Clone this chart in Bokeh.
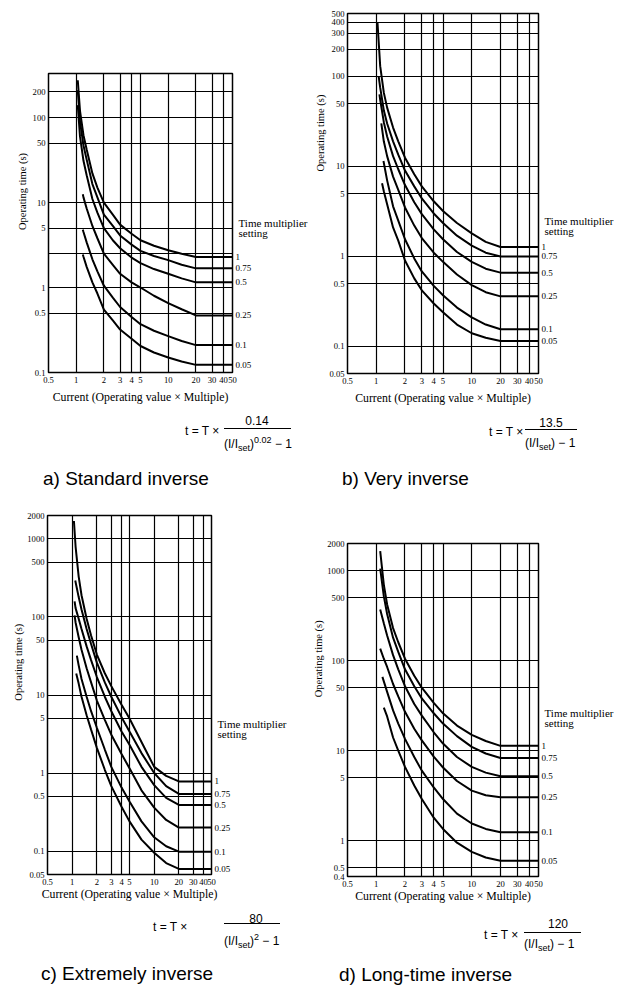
import math
from bokeh.plotting import figure
from bokeh.models import FixedTicker, LogAxis, CustomJSTickFormatter, Div
from bokeh.layouts import column, row
from bokeh.embed import file_html
from bokeh.resources import INLINE

SERIF = "Liberation Serif"
SANS = "Liberation Sans"

X_TICKS = [0.5, 1, 2, 3, 4, 5, 10, 20, 30, 40, 50]
SETTING_LABELS = ["1", "0.75", "0.5", "0.25", "0.1", "0.05"]

# ---------------- a) Standard inverse ----------------
A_Y_TICKS = [0.1, 0.5, 1, 5, 10, 50, 100, 200]
A_Y_GRID_EXTRA = [2.5]
A_X_UP = [1.04, 1.1, 1.2, 1.3, 1.5, 1.7, 2, 2.5, 3, 4, 5, 7, 10, 14, 20, 50]
A_T100 = [275, 120, 62, 42, 22, 15, 10, 7.2, 5.5, 4.3, 3.6, 3.1, 2.75, 2.5, 2.29, 2.29]
A_T075 = [210, 90, 47, 32, 16.5, 11.5, 7.2, 5.3, 4.1, 3.2, 2.7, 2.35, 2.1, 1.85, 1.68, 1.68]
A_T050 = [140, 60, 31, 21, 11, 7.6, 5.0, 3.6, 2.9, 2.25, 1.94, 1.65, 1.45, 1.28, 1.15, 1.15]
A_X_LO = [1.18, 1.2, 1.3, 1.5, 1.7, 2, 2.5, 3, 4, 5, 7, 10, 14, 20, 50]
A_T025 = [12.5, 11.5, 8.5, 5.3, 3.8, 2.5, 1.85, 1.45, 1.15, 1.0, 0.8, 0.655, 0.555, 0.47, 0.47]
A_T010 = [4.8, 4.5, 3.4, 2.15, 1.55, 1.05, 0.76, 0.59, 0.45, 0.37, 0.31, 0.268, 0.235, 0.21, 0.21]
A_T005 = [2.45, 2.3, 1.75, 1.15, 0.85, 0.55, 0.41, 0.32, 0.25, 0.205, 0.172, 0.15, 0.135, 0.123, 0.123]

# ---------------- b) Very inverse ----------------
B_Y_TICKS = [0.05, 0.1, 0.5, 1, 5, 10, 50, 100, 200, 300, 400, 500]
B_X_T100 = [1.03, 1.1, 1.2, 1.3, 1.5, 1.7, 2, 2.5, 3, 4, 5, 7, 10, 14, 20, 50]
B_T100 = [400, 130, 66, 45, 27, 19, 12.5, 8.2, 6.0, 4.1, 3.2, 2.35, 1.8, 1.45, 1.27, 1.27]
B_X_T075 = [1.06, 1.1, 1.2, 1.3, 1.5, 1.7, 2, 2.5, 3, 4, 5, 7, 10, 14, 20, 50]
B_T075 = [100, 75, 42, 30, 19, 13.5, 9.0, 6.0, 4.4, 3.0, 2.35, 1.7, 1.32, 1.1, 1.0, 1.0]
B_X_T050 = [1.08, 1.1, 1.2, 1.3, 1.5, 1.7, 2, 2.5, 3, 4, 5, 7, 10, 14, 20, 50]
B_T050 = [63, 55, 31, 21.5, 13, 9.3, 6.2, 4.0, 2.95, 2.0, 1.55, 1.12, 0.87, 0.73, 0.66, 0.66]
B_X_T025 = [1.13, 1.2, 1.3, 1.5, 1.7, 2, 2.5, 3, 4, 5, 7, 10, 14, 20, 50]
B_T025 = [30, 19, 13, 7.7, 5.5, 3.5, 2.2, 1.6, 1.1, 0.87, 0.63, 0.48, 0.4, 0.36, 0.36]
B_X_T010 = [1.19, 1.3, 1.5, 1.7, 2, 2.5, 3, 4, 5, 7, 10, 14, 20, 50]
B_T010 = [11.5, 7.0, 3.6, 2.5, 1.55, 0.95, 0.68, 0.47, 0.37, 0.27, 0.21, 0.175, 0.155, 0.155]
B_X_T005 = [1.15, 1.2, 1.3, 1.5, 1.7, 2, 2.5, 3, 4, 5, 7, 10, 14, 20, 50]
B_T005 = [6.5, 5.3, 3.8, 2.1, 1.5, 0.9, 0.57, 0.42, 0.3, 0.24, 0.175, 0.14, 0.125, 0.115, 0.115]

# ---------------- c) Extremely inverse ----------------
C_Y_TICKS = [0.05, 0.1, 0.5, 1, 5, 10, 50, 100, 500, 1000, 2000]
C_X_T100 = [1.05, 1.1, 1.2, 1.3, 1.5, 1.7, 2, 2.5, 3, 4, 5, 7, 10, 14, 20, 50]
C_T100 = [1700, 800, 330, 190, 95, 58, 33, 19, 13, 7.5, 5.0, 2.5, 1.2, 0.92, 0.78, 0.78]
C_X_T075 = [1.09, 1.2, 1.3, 1.5, 1.7, 2, 2.5, 3, 4, 5, 7, 10, 14, 20, 50]
C_T075 = [294, 180, 125, 70, 45, 26, 14.5, 9.5, 5.2, 3.4, 1.8, 1.0, 0.68, 0.54, 0.54]
C_X_T050 = [1.07, 1.1, 1.2, 1.3, 1.5, 1.7, 2, 2.5, 3, 4, 5, 7, 10, 14, 20, 50]
C_T050 = [159, 130, 95, 70, 42, 28, 17, 9.5, 6.2, 3.4, 2.3, 1.2, 0.7, 0.48, 0.39, 0.39]
C_X_T025 = [1.07, 1.1, 1.2, 1.3, 1.5, 1.7, 2, 2.5, 3, 4, 5, 7, 10, 14, 20, 50]
C_T025 = [105, 85, 55, 38, 22, 14.5, 8.5, 4.8, 3.1, 1.75, 1.15, 0.6, 0.36, 0.25, 0.2, 0.2]
C_X_T010 = [1.14, 1.2, 1.3, 1.5, 1.7, 2, 2.5, 3, 4, 5, 7, 10, 14, 20, 50]
C_T010 = [32, 24, 16, 9.5, 6.2, 3.8, 2.0, 1.2, 0.65, 0.43, 0.24, 0.15, 0.115, 0.098, 0.098]
C_X_T005 = [1.12, 1.2, 1.3, 1.5, 1.7, 2, 2.5, 3, 4, 5, 7, 10, 14, 20, 50]
C_T005 = [18.8, 14, 9.5, 5.5, 3.6, 2.1, 1.1, 0.68, 0.37, 0.24, 0.14, 0.095, 0.07, 0.059, 0.059]

# ---------------- d) Long-time inverse ----------------
D_Y_TICKS = [0.4, 0.5, 1, 5, 10, 50, 100, 500, 1000, 2000]
D_X_T100 = [1.1, 1.2, 1.3, 1.5, 1.7, 2, 2.5, 3, 4, 5, 7, 10, 14, 20, 50]
D_T100 = [1650, 700, 420, 230, 160, 105, 68, 50, 34, 26, 19, 15, 12.8, 11.3, 11.3]
D_X_T075 = [1.1, 1.2, 1.3, 1.5, 1.7, 2, 2.5, 3, 4, 5, 7, 10, 14, 20, 50]
D_T075 = [1050, 520, 330, 180, 125, 80, 52, 38, 26, 20, 14.5, 11, 9.3, 8.3, 8.3]
D_X_T050 = [1.1, 1.2, 1.3, 1.5, 1.7, 2, 2.5, 3, 4, 5, 7, 10, 14, 20, 50]
D_T050 = [370, 260, 190, 115, 80, 52, 33, 24.5, 16, 12, 8.5, 6.6, 5.7, 5.2, 5.2]
D_X_T025 = [1.1, 1.2, 1.3, 1.5, 1.7, 2, 2.5, 3, 4, 5, 7, 10, 14, 20, 50]
D_T025 = [136, 105, 85, 55, 40, 27, 17.5, 13, 8.6, 6.5, 4.6, 3.6, 3.2, 3.03, 3.03]
D_X_T010 = [1.16, 1.3, 1.5, 1.7, 2, 2.5, 3, 4, 5, 7, 10, 14, 20, 50]
D_T010 = [66, 45, 28, 20, 13.5, 8.5, 6.0, 3.9, 2.9, 2.0, 1.55, 1.35, 1.24, 1.24]
D_X_T005 = [1.2, 1.3, 1.5, 1.7, 2, 2.5, 3, 4, 5, 7, 10, 14, 20, 50]
D_T005 = [30, 24, 14, 10, 6.6, 4.1, 2.9, 1.8, 1.35, 0.95, 0.75, 0.65, 0.6, 0.6]

Y_LABEL = "Operating time (s)"
X_LABEL = "Current (Operating value \u00d7 Multiple)"


def px_to_val(py, ft, fb, y0, y1):
    """screen y (inside figure) -> data value on the log y scale"""
    l0, l1 = math.log10(y0), math.log10(y1)
    return 10 ** (l0 + (fb - py) / (fb - ft) * (l1 - l0))


def make_panel(W, H, fl, fr, ft, fb, y_range, y_ticks, y_grid, curves, tms_y,
               y_lab_raise=0, y_lab_standoff=0, x_lab_standoff=4):
    p = figure(width=W, height=H, x_axis_type="log", y_axis_type="log",
               x_range=(0.5, 50), y_range=y_range, output_backend="svg",
               toolbar_location=None, title=None,
               min_border_left=fl, min_border_right=W - fr,
               min_border_top=ft, min_border_bottom=H - fb)
    p.background_fill_color = "white"
    p.border_fill_color = "white"
    p.outline_line_color = "black"
    p.outline_line_width = 1.5
    for ax in (p.xaxis[0], p.yaxis[0]):
        ax.formatter = CustomJSTickFormatter(code="return String(tick)")
        ax.axis_line_color = None
        ax.major_tick_line_color = None
        ax.minor_tick_line_color = None
        ax.major_tick_out = 0
        ax.major_tick_in = 0
        ax.minor_tick_out = 0
        ax.major_label_text_font = SERIF
        ax.major_label_text_font_size = "8.6px"
        ax.axis_label_text_font = SERIF
        ax.axis_label_text_font_style = "normal"
        ax.axis_label_text_color = "black"
        ax.major_label_text_color = "black"
    p.xaxis[0].ticker = FixedTicker(ticks=X_TICKS)
    p.yaxis[0].ticker = FixedTicker(ticks=y_ticks)
    p.xaxis[0].major_label_standoff = 4
    p.yaxis[0].major_label_standoff = 3
    p.xaxis[0].axis_label = X_LABEL
    p.xaxis[0].axis_label_text_font_size = "11.8px"
    p.xaxis[0].axis_label_standoff = x_lab_standoff
    # the label sits above the middle of the frame: lead it with no-break spaces
    n_pad = int(round(2 * y_lab_raise / (0.25 * 10.5)))
    p.yaxis[0].axis_label = "\u00a0" * n_pad + Y_LABEL
    p.yaxis[0].axis_label_text_font_size = "10.5px"
    p.yaxis[0].axis_label_standoff = y_lab_standoff
    p.xgrid.ticker = FixedTicker(ticks=X_TICKS)
    p.ygrid.ticker = FixedTicker(ticks=sorted(y_ticks + y_grid))
    for g in (p.xgrid[0], p.ygrid[0]):
        g.grid_line_color = "black"
        g.grid_line_width = 1.2
        g.grid_line_alpha = 1.0

    tails = []
    for xs, ys in curves:
        p.line(xs, ys, line_color="black", line_width=2)
        tails.append(ys[-1])

    common = dict(axis_line_color=None, major_tick_line_color=None,
                  minor_tick_line_color=None, major_tick_out=0, major_tick_in=0,
                  minor_tick_out=0, major_label_text_font=SERIF,
                  major_label_text_color="black")
    rax = LogAxis(ticker=FixedTicker(ticks=tails),
                  major_label_overrides={t: s for t, s in zip(tails, SETTING_LABELS)},
                  major_label_standoff=3, major_label_text_font_size="9px", **common)
    p.add_layout(rax, "right")
    # heading of the setting labels, carried by a second right-hand axis
    v1 = px_to_val(tms_y, ft, fb, *y_range)
    v2 = px_to_val(tms_y + 10, ft, fb, *y_range)
    hax = LogAxis(ticker=FixedTicker(ticks=[v1, v2]),
                  major_label_overrides={v1: "Time multiplier", v2: "setting"},
                  major_label_standoff=-16, major_label_text_font_size="11px", **common)
    p.add_layout(hax, "right")
    return p


def text_div(W, H, caption, cap_x, cap_y, t_x, t_y, num, num_cx, num_y,
             bar_x0, bar_x1, bar_y, den_y, sup):
    def span(x, yc, txt, size, center=False):
        tr = "transform:translateX(-50%);" if center else ""
        return (f'<span style="position:absolute;left:{x}px;top:{yc - size / 2:.1f}px;'
                f"font-family:'{SANS}';font-size:{size}px;line-height:{size}px;"
                f'white-space:nowrap;color:#000;{tr}">{txt}</span>')
    small = "font-size:9px;position:relative;"
    den = f'(I/I<span style="{small}top:3px">set</span>)'
    if sup:
        den += f'<span style="{small}top:-5px">{sup}</span>'
    den += " \u2212 1"
    html = (f'<div style="position:relative;width:{W}px;height:{H}px;margin:0;padding:0;">'
            + span(t_x, t_y, "t = T \u00d7", 12)
            + span(num_cx, num_y, num, 12, center=True)
            + f'<div style="position:absolute;left:{bar_x0}px;top:{bar_y - 0.6:.1f}px;'
              f'width:{bar_x1 - bar_x0}px;height:0;border-top:1.2px solid #000;"></div>'
            + span(bar_x0, den_y, den, 12)
            + span(cap_x, cap_y, caption, 19)
            + '</div>')
    return Div(text=html, width=W, height=H, margin=(0, 0, 0, 0))


pa = make_panel(310, 412, 48, 238, 73, 372, (0.1, 330), A_Y_TICKS, A_Y_GRID_EXTRA,
                [(A_X_UP, A_T100), (A_X_UP, A_T075), (A_X_UP, A_T050),
                 (A_X_LO, A_T025), (A_X_LO, A_T010), (A_X_LO, A_T005)], 222,
                y_lab_raise=32, y_lab_standoff=2)
pb = make_panel(314, 412, 37, 228, 13, 373, (0.05, 500), B_Y_TICKS, [],
                [(B_X_T100, B_T100), (B_X_T075, B_T075), (B_X_T050, B_T050),
                 (B_X_T025, B_T025), (B_X_T010, B_T010), (B_X_T005, B_T005)], 220,
                y_lab_raise=60, y_lab_standoff=0)
pc = make_panel(310, 412, 47, 211, 19, 378, (0.05, 2000), C_Y_TICKS, [],
                [(C_X_T100, C_T100), (C_X_T075, C_T075), (C_X_T050, C_T050),
                 (C_X_T025, C_T025), (C_X_T010, C_T010), (C_X_T005, C_T005)], 227,
                y_lab_raise=33, y_lab_standoff=0, x_lab_standoff=-1)
pd = make_panel(314, 412, 36, 228, 47, 380, (0.4, 2000), D_Y_TICKS, [],
                [(D_X_T100, D_T100), (D_X_T075, D_T075), (D_X_T050, D_T050),
                 (D_X_T025, D_T025), (D_X_T010, D_T010), (D_X_T005, D_T005)], 216,
                y_lab_raise=51, y_lab_standoff=0, x_lab_standoff=-1)

da = text_div(310, 84, "a) Standard inverse", 43, 66, 185, 19, "0.14", 257, 9, 224, 291, 17, 32, "0.02")
db = text_div(314, 84, "b) Very inverse", 32, 66, 179, 20, "13.5", 241, 11, 215, 267, 18, 31, None)
dc = text_div(310, 84, "c) Extremely inverse", 41, 65, 153, 19, "80", 256, 11, 224, 280, 16, 33, "2")
dd = text_div(314, 84, "d) Long-time inverse", 29, 66, 174, 27, "120", 248, 16, 214, 271, 25, 36, None)

layout = column(row(column(pa, da, spacing=0), column(pb, db, spacing=0), spacing=0),
                row(column(pc, dc, spacing=0), column(pd, dd, spacing=0), spacing=0),
                spacing=0)
open("out.html", "w").write(file_html(layout, INLINE))
